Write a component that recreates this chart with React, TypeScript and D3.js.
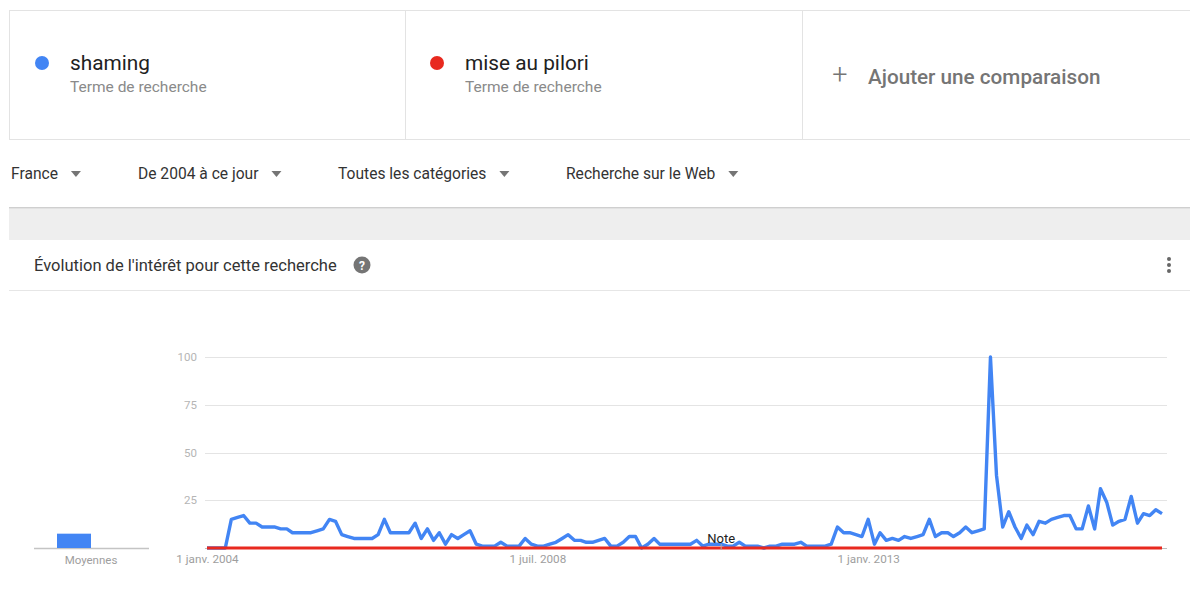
import React, { useEffect, useRef } from 'react'
import * as d3 from 'd3'

// search terms shown in the header cards
const terms = ['shaming', 'mise au pilori']
const termColors = ['#4285f4', '#e8291f']
const filters = ['France', 'De 2004 à ce jour', 'Toutes les catégories', 'Recherche sur le Web']

// axis ticks
const yTicks = [25, 50, 75, 100]
const xTickDates = [new Date(2004, 0, 1), new Date(2008, 6, 1), new Date(2013, 0, 1)]
const xTickLabels = ['1 janv. 2004', '1 juil. 2008', '1 janv. 2013']
const noteDate = new Date(2011, 0, 1)

// average bars (left mini chart)
const averages = [7.5, 0]

// monthly values, janv. 2004 -> janv. 2017
const shaming = [
  0, 0, 0, 0, 15, 16, 17, 13, 13, 11, 11, 11,
  10, 10, 8, 8, 8, 8, 9, 10, 15, 14, 7, 6,
  5, 5, 5, 5, 7, 15, 8, 8, 8, 8, 13, 5,
  10, 4, 8, 2, 7, 5, 7, 9, 2, 1, 1, 1,
  3, 1, 1, 1, 5, 2, 1, 1, 2, 3, 5, 7,
  4, 4, 3, 3, 4, 5, 1, 1, 3, 6, 6, 0,
  2, 5, 2, 2, 2, 2, 2, 2, 4, 1, 2, 2,
  2, 1, 1, 3, 1, 1, 1, 0, 1, 1, 2, 2,
  2, 3, 1, 1, 1, 1, 2, 11, 8, 8, 7, 6,
  15, 2, 8, 4, 5, 4, 6, 5, 6, 7, 15, 6,
  8, 8, 6, 8, 11, 8, 9, 10, 100, 38, 11, 19,
  11, 5, 12, 7, 14, 13, 15, 16, 17, 17, 10, 10,
  22, 10, 31, 24, 12, 14, 15, 27, 13, 18, 17, 20,
  18
]
const pilori = [
  0, 0, 0, 0, 0, 0, 0, 0, 0, 0, 0, 0,
  0, 0, 0, 0, 0, 0, 0, 0, 0, 0, 0, 0,
  0, 0, 0, 0, 0, 0, 0, 0, 0, 0, 0, 0,
  0, 0, 0, 0, 0, 0, 0, 0, 0, 0, 0, 0,
  0, 0, 0, 0, 0, 0, 0, 0, 0, 0, 0, 0,
  0, 0, 0, 0, 0, 0, 0, 0, 0, 0, 0, 0,
  0, 0, 0, 0, 0, 0, 0, 0, 0, 0, 0, 0,
  0, 0, 0, 0, 0, 0, 0, 0, 0, 0, 0, 0,
  0, 0, 0, 0, 0, 0, 0, 0, 0, 0, 0, 0,
  0, 0, 0, 0, 0, 0, 0, 0, 0, 0, 0, 0,
  0, 0, 0, 0, 0, 0, 0, 0, 0, 0, 0, 0,
  0, 0, 0, 0, 0, 0, 0, 0, 0, 0, 0, 0,
  0, 0, 0, 0, 0, 0, 0, 0, 0, 0, 0, 0,
  0
]

const months = d3.timeMonth.range(new Date(2004, 0, 1), new Date(2017, 0, 2))

const width = 1190
const height = 614
const font = 'Roboto, "Noto Sans", Arial, sans-serif'

const App: React.FC = () => {
  const svgRef = useRef<SVGSVGElement>(null)

  useEffect(() => {
    if (!svgRef.current) return
    const svg = d3.select(svgRef.current)
    svg.selectAll('*').remove()

    svg.append('rect').attr('width', width).attr('height', height).attr('fill', '#fff')

    // ---- header cards
    svg.append('rect')
      .attr('x', 9.5).attr('y', 10.5).attr('width', 1200).attr('height', 129)
      .attr('fill', '#fff').attr('stroke', '#e3e3e3')
    ;[405.5, 802.5].forEach((x) => {
      svg.append('line').attr('x1', x).attr('x2', x).attr('y1', 10).attr('y2', 139)
        .attr('stroke', '#e3e3e3')
    })
    const cardX = [42, 437]
    terms.forEach((t, i) => {
      svg.append('circle').attr('cx', cardX[i]).attr('cy', 63).attr('r', 7).attr('fill', termColors[i])
      svg.append('text').attr('x', cardX[i] + 28).attr('y', 70)
        .style('font-family', font).style('font-size', '20.8px').attr('fill', '#212121').text(t)
      svg.append('text').attr('x', cardX[i] + 28).attr('y', 92)
        .style('font-family', font).style('font-size', '15.5px').attr('fill', '#8a8a8a')
        .text('Terme de recherche')
    })
    svg.append('text').attr('x', 840).attr('y', 84).attr('text-anchor', 'middle')
      .style('font-family', font).style('font-size', '27px').style('font-weight', '300')
      .attr('fill', '#757575').text('+')
    svg.append('text').attr('x', 868).attr('y', 84)
      .style('font-family', font).style('font-size', '20.7px').style('font-weight', '500')
      .attr('fill', '#757575').text('Ajouter une comparaison')

    // ---- filter bar
    const filterX = [11, 138, 338, 566]
    filters.forEach((f, i) => {
      const t = svg.append('text').attr('x', filterX[i]).attr('y', 179)
        .style('font-family', font).style('font-size', '15.6px').attr('fill', '#333').text(f)
      const w = (t.node() as SVGTextElement).getComputedTextLength()
      const tx = filterX[i] + w + 13
      svg.append('path')
        .attr('d', `M${tx},171 L${tx + 10},171 L${tx + 5},177 Z`)
        .attr('fill', '#757575')
    })

    // grey separator band with shadow
    svg.append('rect').attr('x', 9).attr('y', 207).attr('width', 1190).attr('height', 33).attr('fill', '#eeeeee')
    svg.append('line').attr('x1', 9).attr('x2', 1190).attr('y1', 207.5).attr('y2', 207.5).attr('stroke', '#cfcfcf')
    svg.append('line').attr('x1', 9).attr('x2', 1190).attr('y1', 208.5).attr('y2', 208.5).attr('stroke', '#e2e2e2')

    // ---- chart card title
    svg.append('text').attr('x', 34).attr('y', 271)
      .style('font-family', font).style('font-size', '16.5px').attr('fill', '#333')
      .text("Évolution de l'intérêt pour cette recherche")
    svg.append('circle').attr('cx', 362).attr('cy', 265).attr('r', 8.5).attr('fill', '#757575')
    svg.append('text').attr('x', 362).attr('y', 269.5).attr('text-anchor', 'middle')
      .style('font-family', font).style('font-size', '12px').style('font-weight', '700')
      .attr('fill', '#fff').text('?')
    ;[259, 265, 271].forEach((cy) => {
      svg.append('circle').attr('cx', 1169).attr('cy', cy).attr('r', 2).attr('fill', '#666')
    })
    svg.append('line').attr('x1', 9).attr('x2', 1190).attr('y1', 290.5).attr('y2', 290.5).attr('stroke', '#e6e6e6')

    // ---- main chart
    const x = d3.scaleTime()
      .domain([new Date(2004, 0, 1), new Date(2017, 0, 1)])
      .range([207, 1162])
    const y = d3.scaleLinear().domain([0, 100]).range([548, 357])

    const grid = svg.append('g')
    grid.selectAll('line').data(yTicks).enter().append('line')
      .attr('x1', 205).attr('x2', 1167)
      .attr('y1', (d) => Math.round(y(d)) + 0.5).attr('y2', (d) => Math.round(y(d)) + 0.5)
      .attr('stroke', '#e4e4e4')
    grid.selectAll('text').data(yTicks).enter().append('text')
      .attr('x', 197).attr('y', (d) => y(d) + 4).attr('text-anchor', 'end')
      .style('font-family', font).style('font-size', '11.5px').attr('fill', '#b5b5b5')
      .text((d) => d)

    svg.append('line').attr('x1', 205).attr('x2', 1167).attr('y1', 548.5).attr('y2', 548.5).attr('stroke', '#bdbdbd')

    const xAxis = d3.axisBottom(x)
      .tickValues(xTickDates)
      .tickSize(0)
      .tickFormat((_d, i) => xTickLabels[i])
    const gx = svg.append('g').attr('transform', 'translate(0,550)').call(xAxis)
    gx.select('.domain').remove()
    gx.selectAll('text')
      .attr('dy', '0').attr('y', 13)
      .style('font-family', font).style('font-size', '11.7px').attr('fill', '#9e9e9e')

    const line = d3.line<number>()
      .x((_d, i) => x(months[i]))
      .y((d) => y(d))

    svg.append('path').datum(shaming).attr('d', line)
      .attr('fill', 'none').attr('stroke', termColors[0]).attr('stroke-width', 3.4)
      .attr('stroke-linejoin', 'round')
    svg.append('path').datum(pilori).attr('d', line)
      .attr('fill', 'none').attr('stroke', termColors[1]).attr('stroke-width', 2.8)

    // note marker
    svg.append('line').attr('x1', x(noteDate)).attr('x2', x(noteDate)).attr('y1', 544).attr('y2', 550)
      .attr('stroke', '#aaa')
    svg.append('text').attr('x', x(noteDate)).attr('y', 543).attr('text-anchor', 'middle')
      .style('font-family', font).style('font-size', '13px').attr('fill', '#222').text('Note')

    // ---- averages mini chart
    const xb = d3.scaleBand().domain(terms).range([57, 125]).padding(0)
    svg.append('line').attr('x1', 34).attr('x2', 149).attr('y1', 548.5).attr('y2', 548.5)
      .attr('stroke', '#c4c4c4').attr('stroke-width', 1.5)
    svg.selectAll('.avg').data(averages).enter().append('rect')
      .attr('class', 'avg')
      .attr('x', (_d, i) => xb(terms[i]) ?? 0)
      .attr('y', (d) => y(d))
      .attr('width', xb.bandwidth())
      .attr('height', (d) => 548 - y(d))
      .attr('fill', (_d, i) => termColors[i])
    svg.append('text').attr('x', 91).attr('y', 564).attr('text-anchor', 'middle')
      .style('font-family', font).style('font-size', '11.5px').attr('fill', '#9e9e9e').text('Moyennes')
  }, [])

  return (
    <svg
      ref={svgRef}
      width={width}
      height={height}
      style={{ position: 'absolute', left: 0, top: 0, display: 'block' }}
    />
  )
}

export default App
